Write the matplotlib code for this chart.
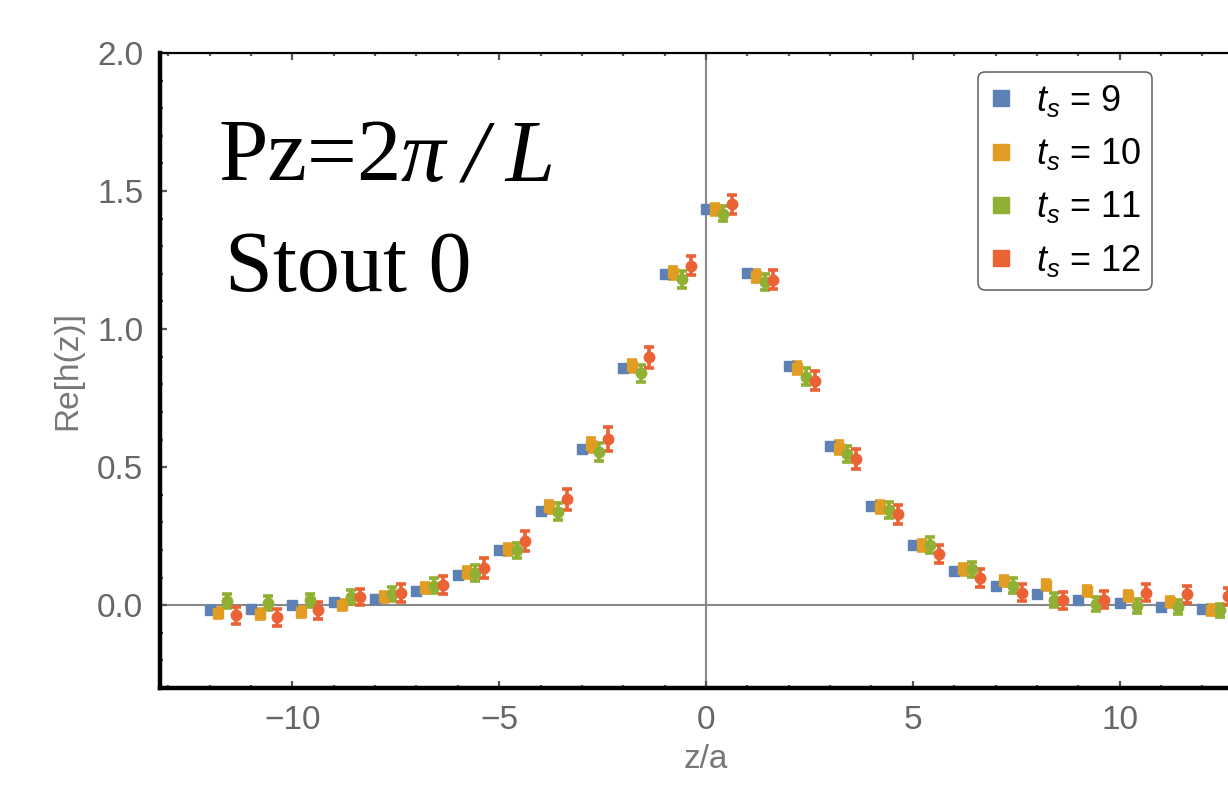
"""Re[h(z)] vs z/a for several source-sink separations (Mathematica-style frame)."""

import matplotlib

matplotlib.use("Agg")
import matplotlib.pyplot as plt
from matplotlib.lines import Line2D
from matplotlib.ticker import MultipleLocator

plt.rcParams["font.family"] = ["Liberation Sans", "DejaVu Sans"]
plt.rcParams["mathtext.fontset"] = "custom"
plt.rcParams["mathtext.rm"] = "Liberation Sans"
plt.rcParams["mathtext.it"] = "Liberation Sans:italic"

z = list(range(-12, 13))

ts9 = [-0.018, -0.013, -0.001, 0.011, 0.024, 0.053, 0.111, 0.200, 0.341, 0.565,
       0.859, 1.198, 1.436, 1.203, 0.865, 0.577, 0.359, 0.217, 0.123, 0.071,
       0.039, 0.018, 0.008, -0.006, -0.013]
ts10 = [-0.030, -0.031, -0.024, 0.002, 0.029, 0.061, 0.117, 0.202, 0.357, 0.580,
        0.865, 1.203, 1.434, 1.191, 0.858, 0.571, 0.356, 0.217, 0.130, 0.087,
        0.073, 0.051, 0.033, 0.012, -0.016]
ts11 = [0.015, 0.008, 0.017, 0.029, 0.041, 0.071, 0.117, 0.199, 0.339, 0.556,
        0.840, 1.180, 1.418, 1.170, 0.828, 0.547, 0.344, 0.218, 0.130, 0.071,
        0.020, 0.005, -0.004, -0.007, -0.019]
ts12 = [-0.037, -0.044, -0.019, 0.029, 0.045, 0.073, 0.135, 0.232, 0.384, 0.601,
        0.898, 1.230, 1.452, 1.179, 0.813, 0.529, 0.329, 0.186, 0.099, 0.045,
        0.017, 0.020, 0.045, 0.039, 0.032]

err9 = [0.004] * 25
err10 = [0.018, 0.018, 0.018, 0.018, 0.018, 0.018, 0.02, 0.02, 0.022, 0.025,
         0.022, 0.022, 0.02, 0.022, 0.022, 0.022, 0.022, 0.02, 0.02, 0.018,
         0.018, 0.018, 0.018, 0.018, 0.018]
err11 = [0.025, 0.025, 0.025, 0.025, 0.025, 0.027, 0.028, 0.028, 0.03, 0.033,
         0.03, 0.03, 0.028, 0.03, 0.03, 0.03, 0.03, 0.028, 0.028, 0.027,
         0.025, 0.025, 0.025, 0.025, 0.025]
err12 = [0.03, 0.03, 0.03, 0.03, 0.032, 0.033, 0.035, 0.035, 0.038, 0.043,
         0.038, 0.035, 0.035, 0.035, 0.035, 0.035, 0.035, 0.033, 0.032, 0.03,
         0.03, 0.03, 0.03, 0.03, 0.03]

labels = ["$t_s$ = 9", "$t_s$ = 10", "$t_s$ = 11", "$t_s$ = 12"]
colors = ["#5E81B5", "#E19C24", "#8FB032", "#EB6235"]
markers = ["s", "s", "o", "o"]
offsets = [0.0, 0.21, 0.42, 0.63]

fig = plt.figure(figsize=(12.28, 7.85), dpi=100)
ax = fig.add_axes([160 / 1228, 97 / 785, 1092 / 1228, 635 / 785])

ax.axhline(0, color="#888888", lw=1.5, zorder=1)
ax.axvline(0, color="#888888", lw=1.5, zorder=1)

series = [(ts9, err9), (ts10, err10), (ts11, err11), (ts12, err12)]
for (vals, errs), col, mk, off in zip(series, colors, markers, offsets):
    ax.errorbar(
        [v + off for v in z], vals, yerr=errs,
        fmt=mk, color=col, ms=7.5, elinewidth=2.6, capsize=3.6, capthick=2.6,
        zorder=3,
    )

ax.set_xlim(-13.2, 13.2)
ax.set_ylim(-0.3, 2.0)

ax.xaxis.set_major_locator(MultipleLocator(5))
ax.xaxis.set_minor_locator(MultipleLocator(1))
ax.yaxis.set_major_locator(MultipleLocator(0.5))
ax.yaxis.set_minor_locator(MultipleLocator(0.1))
ax.yaxis.set_major_formatter(plt.FormatStrFormatter("%.1f"))

ax.tick_params(which="both", direction="in", top=True, right=True,
               color="#555555", width=1.6, labelsize=24, labelcolor="#666666")
ax.tick_params(which="major", length=5, pad=12)
ax.tick_params(which="minor", length=2.5)

for side in ["left", "bottom"]:
    ax.spines[side].set_linewidth(3.2)
    ax.spines[side].set_color("black")
for side in ["top", "right"]:
    ax.spines[side].set_linewidth(1.6)
    ax.spines[side].set_color("black")

ax.set_xlabel("z/a", fontsize=24, color="#777777", labelpad=6)
ax.set_ylabel("Re[h(z)]", fontsize=24, color="#777777", labelpad=10)

# legend with square swatches
handles = [Line2D([], [], marker="s", ls="none", color=c, ms=12) for c in colors]
leg = fig.legend(
    handles, labels, loc="upper left",
    bbox_to_anchor=(978 / 1228, 1 - 72 / 785),
    fontsize=26, frameon=True, fancybox=True, edgecolor="#444444",
    handlelength=0.7, handletextpad=0.6, labelspacing=0.48, borderpad=0.3,
    borderaxespad=0,
)
leg.get_frame().set_linewidth(1.2)

# annotation in serif
t1 = fig.text(218 / 1228, 1 - 180 / 785, "Pz=2", fontsize=64,
              family="Liberation Serif", color="black")
ax.annotate("\u03c0\u2009/\u2009L", xy=(1, 0), xycoords=t1, fontsize=64,
            family="Liberation Serif", style="italic", va="bottom",
            annotation_clip=False)
fig.text(225 / 1228, 1 - 291 / 785, "Stout 0", fontsize=62,
         family="Liberation Serif", color="black")

fig.savefig("out.png", dpi=100, facecolor="white")
plt.close(fig)
